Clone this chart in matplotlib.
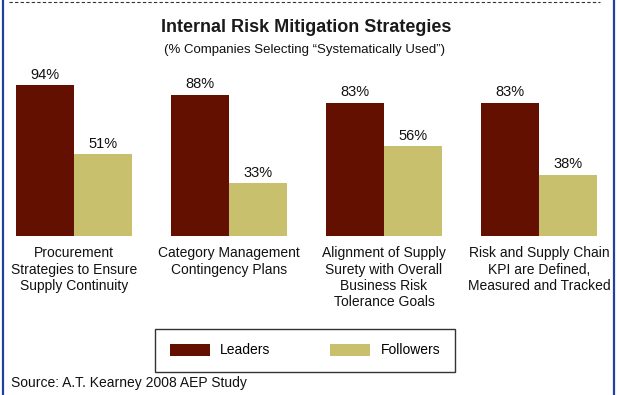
import matplotlib
matplotlib.use('Agg')
import matplotlib.pyplot as plt
from matplotlib import font_manager
from matplotlib.patches import Patch
from matplotlib.lines import Line2D
import numpy as np

categories = [
    'Procurement\nStrategies to Ensure\nSupply Continuity',
    'Category Management\nContingency Plans',
    'Alignment of Supply\nSurety with Overall\nBusiness Risk\nTolerance Goals',
    'Risk and Supply Chain\nKPI are Defined,\nMeasured and Tracked',
]
leaders = [94, 88, 83, 83]
followers = [51, 33, 56, 38]
series_names = ['Leaders', 'Followers']

LEAD_C = '#641000'
FOLL_C = '#C9C06D'

names = {f.name for f in font_manager.fontManager.ttflist}
narrow = 'Liberation Sans Narrow' if 'Liberation Sans Narrow' in names else 'Liberation Sans'
plt.rcParams['font.family'] = ['Liberation Sans', 'DejaVu Sans']

W, H = 617, 395
fig = plt.figure(figsize=(W / 100, H / 100), dpi=100)

# bar area: baseline at y=236px, 100% = 160.6px, bars from x=16 to 597px
ax = fig.add_axes([16 / W, (H - 236) / H, 581 / W, 160.6 / H])
x = np.arange(len(categories))
bw = 0.375
b1 = ax.bar(x - bw / 2, leaders, bw, color=LEAD_C, linewidth=0)
b2 = ax.bar(x + bw / 2, followers, bw, color=FOLL_C, linewidth=0)
ax.set_xlim(-bw, len(categories) - 1 + bw)
ax.set_ylim(0, 100)
ax.axis('off')

for bars, vals in ((b1, leaders), (b2, followers)):
    for rect, v in zip(bars, vals):
        ax.annotate(f'{v}%', (rect.get_x() + rect.get_width() / 2, v),
                    xytext=(0, 2.5), textcoords='offset points',
                    ha='center', va='bottom', fontsize=10.5, color='#111111')

for i, lab in enumerate(categories):
    ax.annotate(lab, (i, 0), xycoords=('data', 'axes fraction'),
                xytext=(0, -7.5), textcoords='offset points',
                ha='center', va='top', fontsize=10, linespacing=1.2,
                color='#111111')

fig.text(306 / W, 1 - 27 / H, 'Internal Risk Mitigation Strategies',
         ha='center', va='center', fontsize=13, fontweight='bold',
         family=narrow, color='#1a1a1a')
fig.text(304 / W, 1 - 49.5 / H, '(% Companies Selecting \u201cSystematically Used\u201d)',
         ha='center', va='center', fontsize=9.5, color='#111111')

handles = [Patch(facecolor=LEAD_C, edgecolor='none'),
           Patch(facecolor=FOLL_C, edgecolor='none')]
leg = fig.legend(handles, series_names, loc='center',
                 bbox_to_anchor=(155 / W, 1 - 373 / H, 300 / W, 45 / H),
                 mode='expand', ncol=2, fontsize=10, frameon=True,
                 fancybox=False, edgecolor='black', borderpad=1.05,
                 handlelength=2.9, handleheight=1.0, handletextpad=0.75,
                 borderaxespad=0)
leg.get_frame().set_linewidth(1.0)

fig.text(11 / W, 1 - 383 / H, 'Source: A.T. Kearney 2008 AEP Study',
         ha='left', va='center', fontsize=10, color='#111111')

# page frame: blue sides, dashed top rule
fig.add_artist(Line2D([2.5 / W, 2.5 / W], [0, 1], color='#2340a0', lw=1.6))
fig.add_artist(Line2D([614 / W, 614 / W], [0, 1], color='#2340a0', lw=1.6))
fig.add_artist(Line2D([9 / W, 600 / W], [1 - 1.5 / H, 1 - 1.5 / H],
                      color='#333333', lw=0.8, ls=(0, (3, 2))))

fig.savefig('out.png', dpi=100)
